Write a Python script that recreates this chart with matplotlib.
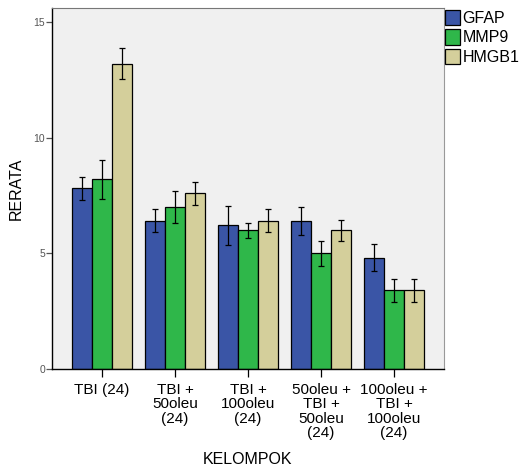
import matplotlib.pyplot as plt
import numpy as np

plt.rcParams['font.family'] = ['Liberation Sans', 'DejaVu Sans']

groups = ["TBI (24)", "TBI +\n50oleu\n(24)", "TBI +\n100oleu\n(24)",
          "50oleu +\nTBI +\n50oleu\n(24)", "100oleu +\nTBI +\n100oleu\n(24)"]
series = ["GFAP", "MMP9", "HMGB1"]
gfap = [7.8, 6.4, 6.2, 6.4, 4.8]
gfap_err = [0.5, 0.5, 0.85, 0.6, 0.58]
mmp9 = [8.2, 7.0, 6.0, 5.0, 3.4]
mmp9_err = [0.85, 0.7, 0.32, 0.55, 0.5]
hmgb1 = [13.2, 7.6, 6.4, 6.0, 3.4]
hmgb1_err = [0.67, 0.5, 0.5, 0.45, 0.5]
colors = ["#3a55a6", "#2fb74a", "#d4cf9b"]

fig = plt.figure(figsize=(5.2, 4.7), dpi=100)
ax = fig.add_axes([0.1, 0.215, 0.754, 0.768])
ax.set_facecolor("#f0f0f0")

x = np.arange(len(groups))
w = 0.274
handles = []
for i, (vals, errs) in enumerate([(gfap, gfap_err), (mmp9, mmp9_err), (hmgb1, hmgb1_err)]):
    b = ax.bar(x + (i - 1) * w, vals, w, color=colors[i], edgecolor="black", linewidth=0.9,
               yerr=errs, error_kw=dict(ecolor="black", elinewidth=0.9, capsize=2.5, capthick=0.9),
               label=series[i])
    handles.append(b)

ax.set_xlim(-0.685, 4.685)
ax.set_ylim(0, 15.6)
ax.set_yticks([0, 5, 10, 15])
ax.set_yticklabels(["0", "5", "10", "15"], fontsize=7.5, color="#555555")
ax.set_xticks(x)
ax.set_xticklabels(groups, fontsize=11, linespacing=1.05)
ax.tick_params(axis="x", length=6, width=0.9, pad=4)
ax.tick_params(axis="y", length=4, width=0.9, pad=1, color="#555555")
ax.spines["top"].set_color("#777777")
ax.spines["right"].set_color("#999999")
ax.spines["left"].set_linewidth(1.0)
ax.spines["bottom"].set_linewidth(1.0)

ax.set_ylabel("RERATA", fontsize=11.5)
ax.yaxis.set_label_coords(-0.072, 0.5)
fig.text(248 / 520, 1 - 460 / 470, "KELOMPOK", fontsize=11.5, ha="center", va="center")

fig.legend(handles=handles, labels=series, loc="upper left",
           bbox_to_anchor=(445 / 520, 1 - 10 / 470), frameon=False, fontsize=11.5,
           handlelength=0.95, handleheight=1.1, handletextpad=0.15, labelspacing=0.2,
           borderaxespad=0, borderpad=0)

fig.savefig("out.png", dpi=100)
